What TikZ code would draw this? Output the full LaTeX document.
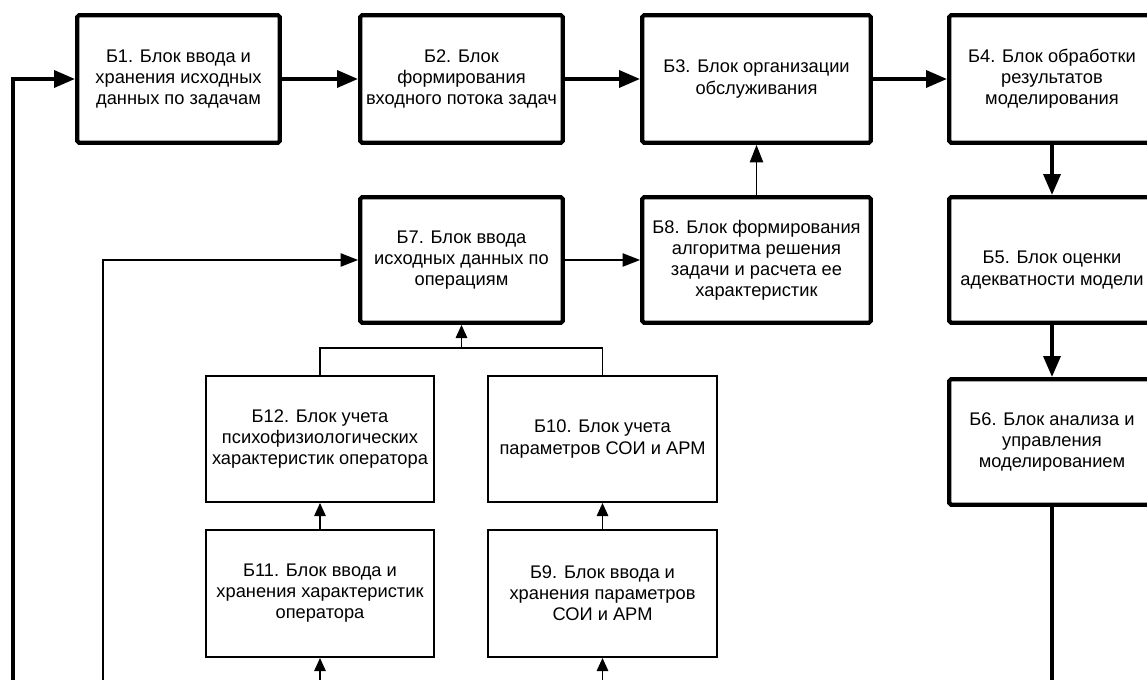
\documentclass[tikz,border=0pt]{standalone}
\usepackage{fontspec}
\setmainfont{Liberation Sans}
\usepackage{xcolor}
\usepackage{tikz}
\usetikzlibrary{arrows.meta}
\definecolor{BKLine}{HTML}{000000}

\begin{document}
\begin{tikzpicture}[x=1cm,y=1cm,
  bigblock/.style={draw=BKLine,line width=2.4pt,rounded corners=1pt,align=center,inner sep=0pt,font=\fontsize{10.4}{12}\selectfont},
  smallblock/.style={draw=BKLine,line width=1.1pt,align=center,inner sep=0pt,font=\fontsize{10.4}{12}\selectfont},
  bigline/.style={draw=BKLine,line width=2.4pt},
  bigflow/.style={bigline,-{Triangle[length=12pt,width=9.5pt]}},
  smallline/.style={draw=BKLine,line width=1.1pt},
  smallflow/.style={smallline,-{Triangle[length=10pt,width=7.5pt]}},
  tinyflow/.style={smallline,-{Triangle[length=7.5pt,width=6.5pt]}}]
\path[use as bounding box] (0,0) rectangle (22.94,13.60);
\node[bigblock,minimum width=4.05cm,minimum height=2.55cm] (b1) at (3.57,12.02) {Б1. Блок ввода и\\хранения исходных\\данных по задачам};
\node[bigblock,minimum width=4.05cm,minimum height=2.55cm] (b2) at (9.23,12.02) {Б2. Блок\\формирования\\входного потока задач};
\node[bigblock,minimum width=4.57cm,minimum height=2.55cm] (b3) at (15.13,12.02) {Б3. Блок организации\\обслуживания};
\node[bigblock,minimum width=4.11cm,minimum height=2.55cm] (b4) at (21.04,12.02) {Б4. Блок обработки\\результатов\\моделирования};
\node[bigblock,minimum width=4.11cm,minimum height=2.51cm] (b5) at (21.04,8.40) {};
\node[font=\fontsize{10.4}{12}\selectfont,align=center,inner sep=0pt] (b5text) at (21.04,8.20) {Б5. Блок оценки\\адекватности модели};
\node[bigblock,minimum width=4.11cm,minimum height=2.51cm] (b6) at (21.04,4.76) {Б6. Блок анализа и\\управления\\моделированием};
\node[bigblock,minimum width=4.05cm,minimum height=2.51cm] (b7) at (9.23,8.40) {Б7. Блок ввода\\исходных данных по\\операциям};
\node[bigblock,minimum width=4.57cm,minimum height=2.51cm] (b8) at (15.13,8.40) {Б8. Блок формирования\\алгоритма решения\\задачи и расчета ее\\характеристик};
\node[smallblock,minimum width=4.56cm,minimum height=2.52cm] (b12) at (6.40,4.82) {Б12. Блок учета\\психофизиологических\\характеристик оператора};
\node[smallblock,minimum width=4.58cm,minimum height=2.52cm] (b10) at (12.05,4.82) {Б10. Блок учета\\параметров СОИ и АРМ};
\node[smallblock,minimum width=4.56cm,minimum height=2.54cm] (b11) at (6.40,1.73) {Б11. Блок ввода и\\хранения характеристик\\оператора};
\node[smallblock,minimum width=4.58cm,minimum height=2.54cm] (b9) at (12.05,1.73) {Б9. Блок ввода и\\хранения параметров\\СОИ и АРМ};
\coordinate (loopa) at (0.26,-0.10);
\coordinate (loopb) at (2.06,-0.10);
\coordinate (outb6) at (21.04,-0.10);
\coordinate (inb11) at (6.40,-0.10);
\coordinate (inb9) at (12.05,-0.10);
\coordinate (joinr) at (12.05,6.64);
\coordinate (joinm) at (9.23,6.64);
\draw[bigflow] (loopa) |- (b1.west);
\draw[bigflow] (b1) -- (b2);
\draw[bigflow] (b2) -- (b3);
\draw[bigflow] (b3) -- (b4);
\draw[bigflow] (b4) -- (b5);
\draw[bigflow] (b5) -- (b6);
\draw[bigline] (b6.south) -- (outb6);
\draw[smallflow] (loopb) |- (b7.west);
\draw[smallflow] (b7) -- (b8);
\draw[smallflow] (b8) -- (b3);
\draw[smallline] (b12.north) |- (joinr) -- (b10.north);
\draw[tinyflow] (joinm) -- (b7.south);
\draw[tinyflow] (b11) -- (b12);
\draw[tinyflow] (b9) -- (b10);
\draw[tinyflow] (inb11) -- (b11.south);
\draw[tinyflow] (inb9) -- (b9.south);
\end{tikzpicture}
\end{document}
